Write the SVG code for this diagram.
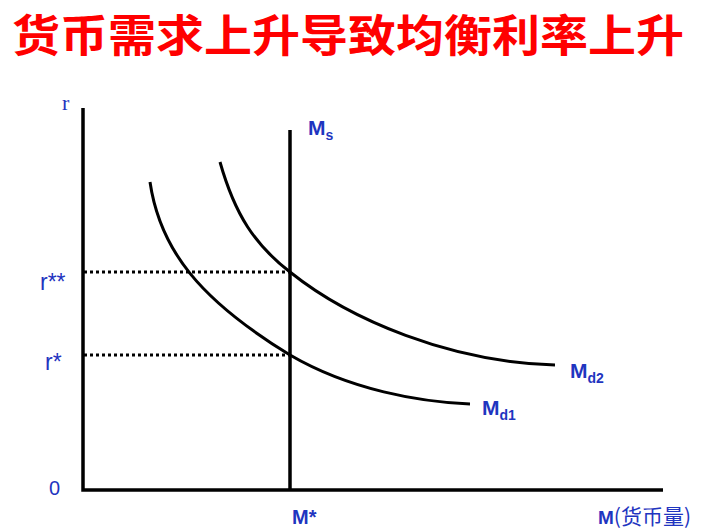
<svg xmlns="http://www.w3.org/2000/svg" width="713" height="532" viewBox="0 0 713 532">
<style>
.title{font-family:"Noto Sans CJK SC","Liberation Sans",sans-serif;font-weight:bold;font-size:44px;fill:#ff0000}
.lbl{font-family:"Liberation Sans",Arial,sans-serif;font-weight:bold;fill:#1f35c0}
.axis{stroke:#000;stroke-width:3.5;fill:none}
.curve{stroke:#000;stroke-width:3;fill:none}
.dot{stroke:#000;stroke-width:3;stroke-dasharray:3 3;fill:none}
</style>
<rect width="713" height="532" fill="#fff"/>
<text class="title" x="12" y="52" textLength="672" lengthAdjust="spacingAndGlyphs">货币需求上升导致均衡利率上升</text>
<g id="connectors">
<path id="r-axis" class="axis" d="M83,108 V490 H663"/>
<path id="Ms-line" class="axis" d="M290,130 V490"/>
<path id="dot-rss" class="dot" d="M84,272 H290"/>
<path id="dot-rs" class="dot" d="M84,355 H290"/>
</g>
<g id="Md1"><path class="curve" d="M150,182 C160,250 200,300 290,355 C350,390 420,402 470,404"/>
<text class="lbl" x="482" y="415" font-size="21">M<tspan font-size="14" dy="5">d1</tspan></text></g>
<g id="Md2"><path class="curve" d="M220,162 C235,215 255,245 290,272 C350,320 450,362 555,365"/>
<text class="lbl" x="570" y="378" font-size="21">M<tspan font-size="14" dy="5">d2</tspan></text></g>
<g id="Ms"><text class="lbl" x="308" y="135" font-size="21">M<tspan font-size="14" dy="5">s</tspan></text></g>
<g id="labels">
<text x="62" y="110" font-family="Liberation Serif,serif" font-size="22" fill="#1f35c0">r</text>
<text x="40" y="290" font-family="Liberation Sans,sans-serif" font-size="23" fill="#1f35c0">r**</text>
<text x="45" y="370" font-family="Liberation Sans,sans-serif" font-size="23" fill="#1f35c0">r*</text>
<text x="49" y="495" font-family="Liberation Sans,sans-serif" font-size="20" fill="#1f35c0">0</text>
<text class="lbl" x="292" y="524" font-size="20">M*</text>
<text class="lbl" x="598" y="524" font-size="19">M<tspan font-family="Noto Sans CJK SC,sans-serif" font-weight="normal" font-size="21">(货币量)</tspan></text>
</g>
</svg>
